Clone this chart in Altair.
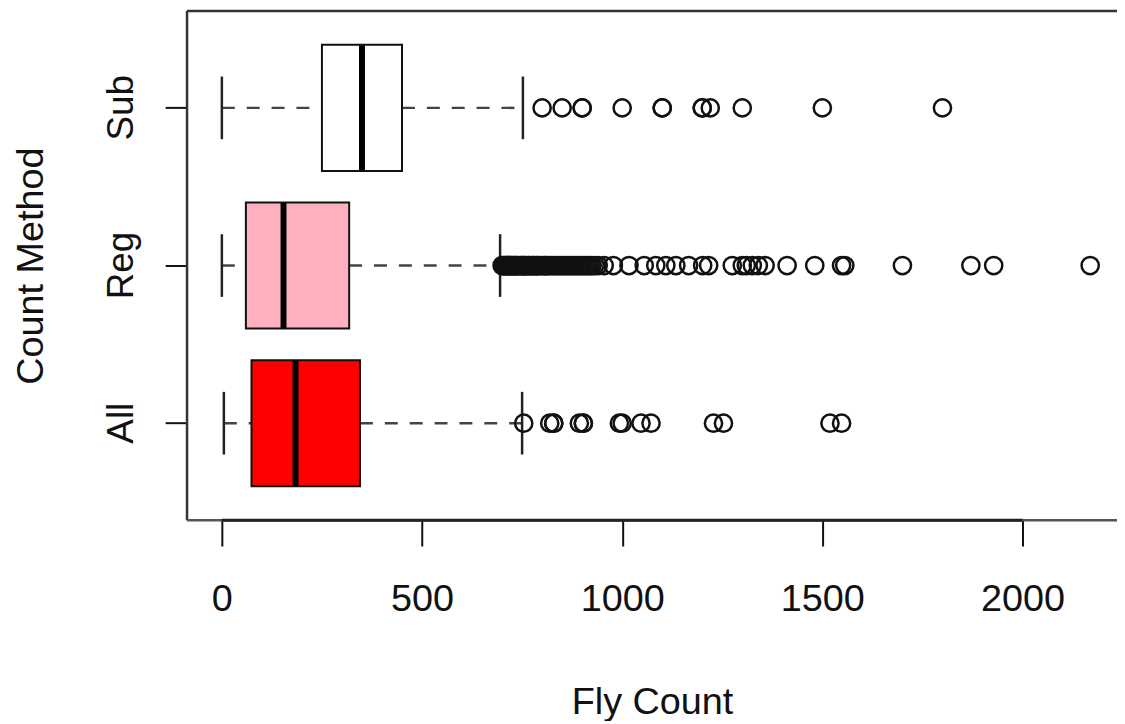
import altair as alt
import pandas as pd

# ---- data ----
groups = ["All", "Reg", "Sub"]
lower_whisker = [5, 0, 0]
q1 = [74, 60, 250]
median = [184, 154, 350]
q3 = [345, 318, 450]
upper_whisker = [750, 695, 752]
fills = ["#FF0000", "#FFB0BE", "#FFFFFF"]

all_out = [754, 819, 829, 829, 893, 903, 903, 993, 1000, 1047, 1072, 1228, 1253, 1519, 1548]
reg_out = [700, 702, 705, 708, 710, 713, 715, 718, 720, 723, 725, 728, 730, 733, 735, 738,
           740, 745, 748, 750, 753, 755, 758, 760, 765, 768, 770, 775, 778, 780, 785, 788,
           790, 795, 800, 805, 808, 810, 815, 820, 825, 830, 835, 840, 845, 850, 855, 860,
           865, 870, 875, 880, 885, 890, 895, 900, 905, 910, 915, 920, 925, 932, 940,
           955, 978, 1017, 1055, 1084, 1109, 1134, 1166, 1201, 1216, 1275, 1300, 1310, 1325,
           1340, 1357, 1412, 1481, 1548, 1556, 1700, 1871, 1928, 2169]
sub_out = [800, 850, 900, 900, 1000, 1100, 1100, 1200, 1200, 1220, 1300, 1500, 1800]

x_ticks = [0, 500, 1000, 1500, 2000]
order = ["Sub", "Reg", "All"]

box_df = pd.DataFrame({"group": groups, "lo": lower_whisker, "q1": q1, "med": median,
                       "q3": q3, "hi": upper_whisker})
out_df = pd.DataFrame({
    "group": ["All"] * len(all_out) + ["Reg"] * len(reg_out) + ["Sub"] * len(sub_out),
    "value": all_out + reg_out + sub_out,
})

FONT = "Liberation Sans"
W, H = 935, 512

xscale = alt.Scale(domain=[-87, 2236], nice=False, zero=False)
xaxis = alt.Axis(title="Fly Count", values=x_ticks, format="d", domain=False, grid=False,
                 tickSize=26, tickWidth=2, tickColor="#111", labelFontSize=38,
                 labelFont=FONT, labelColor="#111", labelPadding=35, labelFlush=False,
                 titleFont=FONT, titleFontSize=38, titleFontWeight="normal",
                 titleColor="#111", titleY=194, titleBaseline="alphabetic")
yscale = alt.Scale(type="band", domain=order, paddingInner=0, paddingOuter=0.115)
yaxis = alt.Axis(title="Count Method", domain=False, grid=False, tickSize=22,
                 tickWidth=2, tickColor="#111", labelAngle=270, labelAlign="center",
                 labelBaseline="alphabetic", labelPadding=33, labelFontSize=37,
                 labelFont=FONT, labelColor="#111", titleFont=FONT, titleFontSize=38,
                 titleFontWeight="normal", titleColor="#111", titleAngle=270,
                 titleX=-145, titleBaseline="alphabetic")

def X(field):
    return alt.X(field, type="quantitative", scale=xscale, axis=xaxis)

Y = alt.Y("group:N", scale=yscale, axis=yaxis)

base = alt.Chart(box_df)

low_wh = base.mark_rule(color="#444", strokeWidth=2.5, strokeDash=[13, 12], opacity=1).encode(
    x=X("lo"), x2="q1", y=Y)
up_wh = base.mark_rule(color="#444", strokeWidth=2.5, strokeDash=[13, 12], opacity=1).encode(
    x=X("q3"), x2="hi", y=Y)
staple_lo = base.mark_tick(color="#222", size=63, thickness=2.5, orient="vertical",
                           opacity=1).encode(x=X("lo"), y=Y)
staple_hi = base.mark_tick(color="#222", size=63, thickness=2.5, orient="vertical",
                           opacity=1).encode(x=X("hi"), y=Y)
box = base.mark_bar(height={"band": 0.8}, stroke="#111", strokeWidth=2, opacity=1).encode(
    x=X("q1"), x2="q3", y=Y,
    fill=alt.Fill("group:N", scale=alt.Scale(domain=groups, range=fills), legend=None))
med = base.mark_tick(color="#000", size=126, thickness=6, orient="vertical",
                     opacity=1).encode(x=X("med"), y=Y)

outs = alt.Chart(out_df).mark_point(shape="circle", filled=False, size=300, opacity=1,
                                    color="#111", strokeWidth=2.5).encode(
    x=X("value"), y=Y)

one = alt.Chart(pd.DataFrame({"k": [0]}))
frame_top = one.mark_rule(color="#333", strokeWidth=2.5).encode(
    x=alt.value(0), x2=alt.value(W), y=alt.value(0))
frame_left = one.mark_rule(color="#333", strokeWidth=2.5).encode(
    x=alt.value(0), y=alt.value(0), y2=alt.value(H))
frame_bottom = one.mark_rule(color="#555", strokeWidth=2.5).encode(
    x=alt.value(0), x2=alt.value(W), y=alt.value(H))
axis_line = one.mark_rule(color="#222", strokeWidth=3).encode(
    x=alt.datum(0, scale=xscale), x2=alt.datum(2000), y=alt.value(H))

chart = alt.layer(
    low_wh, up_wh, staple_lo, staple_hi, box, med, outs,
    frame_top, frame_left, frame_bottom, axis_line,
).properties(
    width=W, height=H,
    padding={"left": 180, "top": 1, "right": 0, "bottom": 200},
    autosize=alt.AutoSizeParams(type="none"),
).configure_view(stroke=None).configure(background="white")

chart.save("out.html", embed_options={"renderer": "svg", "actions": False})
